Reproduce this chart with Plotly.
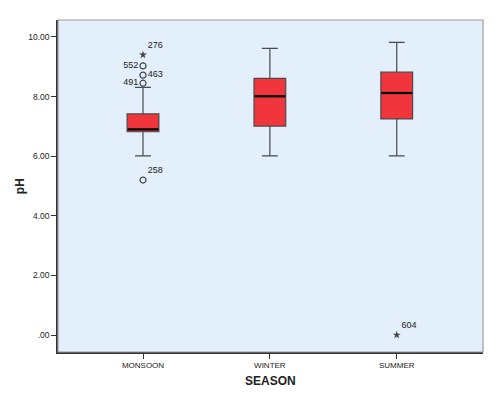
import plotly.graph_objects as go

seasons = ["MONSOON", "WINTER", "SUMMER"]
q1 = [6.82, 7.01, 7.25]
median = [6.90, 8.01, 8.12]
q3 = [7.42, 8.61, 8.82]
lower = [6.01, 6.01, 6.01]
upper = [8.31, 9.62, 9.82]

# outliers (circles) and extremes (stars)
circ_x = ["MONSOON", "MONSOON", "MONSOON", "MONSOON"]
circ_y = [9.03, 8.72, 8.45, 5.20]
circ_lbl = ["552", "463", "491", "258"]
circ_pos = ["middle left", "middle right", "middle left", "top right"]
star_x = ["MONSOON", "SUMMER"]
star_y = [9.40, 0.0]
star_lbl = ["276", "604"]
star_pos = ["top right", "top right"]

yticks = [0, 2, 4, 6, 8, 10]
yticktext = [".00", "2.00", "4.00", "6.00", "8.00", "10.00"]

fig = go.Figure()
fig.add_trace(go.Box(
    x=seasons, q1=q1, median=median, q3=q3,
    lowerfence=lower, upperfence=upper,
    width=0.25, whiskerwidth=0.5,
    fillcolor="#F0363C", line=dict(color="#4a4a4a", width=1.2),
    boxpoints=False, showlegend=False, hoverinfo="skip",
))
fig.add_trace(go.Scatter(
    x=seasons, y=median, mode="markers",
    marker=dict(symbol="line-ew-open", size=22, color="black",
                line=dict(color="black", width=2.2)),
    showlegend=False, hoverinfo="skip",
))
fig.add_trace(go.Scatter(
    x=circ_x, y=circ_y, mode="markers+text", text=circ_lbl, textposition=circ_pos,
    marker=dict(symbol="circle-open", size=6, color="#444", line=dict(width=1.2, color="#444")),
    textfont=dict(size=9, color="#222", family="Liberation Sans, Arial"),
    showlegend=False, hoverinfo="skip",
))
fig.add_trace(go.Scatter(
    x=star_x, y=star_y, mode="markers+text", text=star_lbl, textposition=star_pos,
    marker=dict(symbol="star", size=6, color="#444"),
    textfont=dict(size=9, color="#222", family="Liberation Sans, Arial"),
    showlegend=False, hoverinfo="skip",
))

fig.add_shape(type="rect", xref="paper", yref="paper", x0=0, y0=0, x1=1, y1=1,
              line=dict(color="#999", width=1.2), layer="above")

fig.add_annotation(text="<b>SEASON</b>", xref="paper", yref="paper", x=0.5, y=-0.087,
                   xanchor="center", yanchor="middle", showarrow=False,
                   font=dict(size=12, color="#222"))
fig.add_annotation(text="<b>pH</b>", xref="paper", yref="paper", x=-0.089, y=0.5,
                   xanchor="center", yanchor="middle", showarrow=False, textangle=-90,
                   font=dict(size=12, color="#222"))

fig.update_layout(
    width=492, height=390,
    margin=dict(l=50, r=17, t=12, b=46),
    paper_bgcolor="white", plot_bgcolor="#E3EFFB",
    font=dict(family="Liberation Sans, Arial", size=9, color="#222"),
    xaxis=dict(
        type="category", categoryorder="array", categoryarray=seasons,
        range=[-0.67, 2.68], showgrid=False, zeroline=False, automargin=False,
        showline=True, linecolor="#333", linewidth=1.5,
        ticks="outside", ticklen=5, tickcolor="#333",
        tickfont=dict(size=8),
    ),
    yaxis=dict(
        range=[-0.57, 10.57], showgrid=False, zeroline=False, automargin=False,
        showline=True, linecolor="#333", linewidth=1.5,
        ticks="outside", ticklen=5, tickcolor="#333",
        tickvals=yticks, ticktext=yticktext, tickfont=dict(size=8.5),
    ),
)

fig.write_html("out.html")
